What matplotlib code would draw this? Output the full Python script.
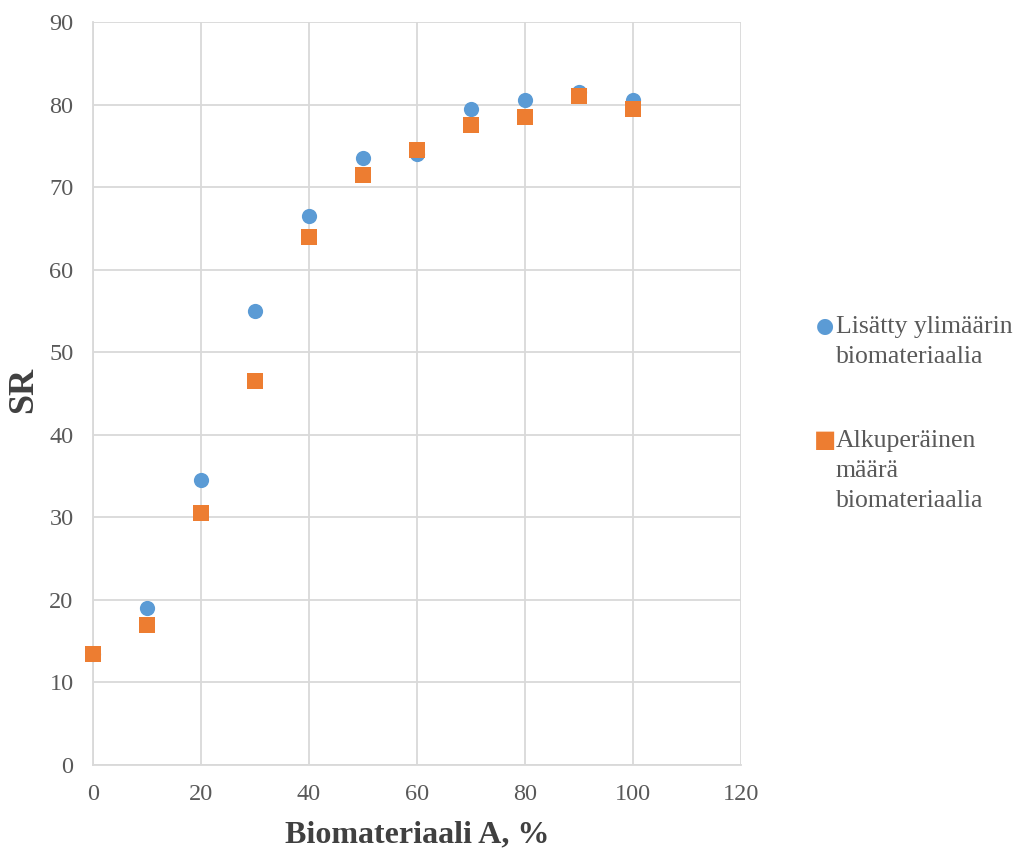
import matplotlib.pyplot as plt

x_vals = [0, 10, 20, 30, 40, 50, 60, 70, 80, 90, 100]
lisatty = [13.5, 19.0, 34.5, 55.0, 66.5, 73.5, 74.0, 79.5, 80.5, 81.5, 80.5]
alkuperainen = [13.5, 17.0, 30.5, 46.5, 64.0, 71.5, 74.5, 77.5, 78.5, 81.0, 79.5]

plt.rcParams['font.family'] = ['Liberation Serif', 'DejaVu Serif']

fig = plt.figure(figsize=(10.23, 8.48), dpi=100)
ax = fig.add_axes([93 / 1023, 1 - 765 / 848, (741 - 93) / 1023, (765 - 22) / 848])

blue = '#5b9bd5'
orange = '#ed7d31'
grid_c = '#d9d9d9'

ax.scatter(x_vals, lisatty, s=120, marker='o', color=blue, zorder=3, linewidths=0, clip_on=False)
ax.scatter(x_vals, alkuperainen, s=120, marker='s', color=orange, zorder=4, linewidths=0, clip_on=False)

ax.set_xlim(0, 120)
ax.set_ylim(0, 90)
ax.set_xticks(range(0, 121, 20))
ax.set_yticks(range(0, 91, 10))
ax.grid(True, color=grid_c, linewidth=1.3)
ax.set_axisbelow(True)
for side in ['top', 'right']:
    ax.spines[side].set_visible(False)
for side in ['left', 'bottom']:
    ax.spines[side].set_color(grid_c)
    ax.spines[side].set_linewidth(1.3)
ax.tick_params(length=0, labelsize=17.5, colors='#595959')
ax.tick_params(axis='x', pad=14)
ax.tick_params(axis='y', pad=14)

ax.set_xlabel('Biomateriaali A, %', fontsize=23, fontweight='bold', color='#404040', labelpad=11)
fig.text(24 / 1023, 1 - 390 / 848, 'SR', fontsize=26, fontweight='bold', color='#404040',
         rotation=90, ha='center', va='center')

# legend drawn by hand to mirror the wrapped text
fig.text(825 / 1023, 1 - 326 / 848, '\u25cf', color=blue, fontsize=15, va='center', ha='center',
         family=['DejaVu Sans'])
fig.text(836 / 1023, 1 - 342 / 848, 'Lisätty ylimäärin\nbiomateriaalia', fontsize=18.5,
         color='#595959', va='center', ha='left', linespacing=1.45)
fig.text(825 / 1023, 1 - 440 / 848, '\u25a0', color=orange, fontsize=17, va='center', ha='center',
         family=['DejaVu Sans'])
fig.text(836 / 1023, 1 - 471 / 848, 'Alkuperäinen\nmäärä\nbiomateriaalia', fontsize=18.5,
         color='#595959', va='center', ha='left', linespacing=1.45)

fig.savefig('out.png', dpi=100, facecolor='white')
